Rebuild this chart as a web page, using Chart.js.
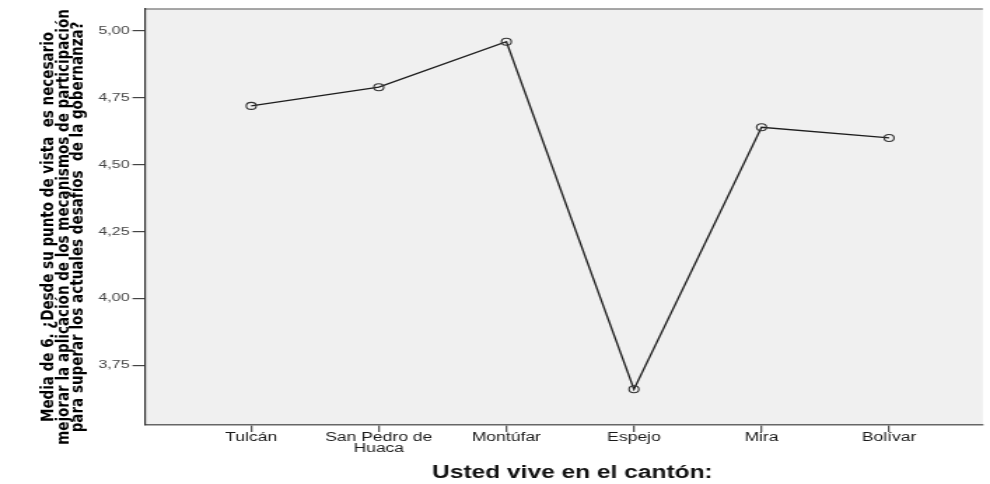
<!DOCTYPE html>
<html>
<head>
<meta charset="utf-8">
<script src="https://cdn.jsdelivr.net/npm/chart.js@4.4.1/dist/chart.umd.min.js"></script>
<style>
  html, body { margin: 0; padding: 0; background: #ffffff; overflow: hidden; }
  #wrap { position: absolute; left: 0; top: 0; width: 707px; height: 484px; transform: scaleX(1.40028); transform-origin: 0 0; }
</style>
</head>
<body>
<div id="wrap"><canvas id="c"></canvas></div>
<script>
// ---- data ----
const categories = ['Tulcán', 'San Pedro de Huaca', 'Montúfar', 'Espejo', 'Mira', 'Bolívar'];
const means = [4.72, 4.79, 4.96, 3.66, 4.64, 4.60];
const yTicks = [3.75, 4.00, 4.25, 4.50, 4.75, 5.00];
const yTitle = [
  'Media de 6. ¿Desde su punto de vista  es necesario',
  'mejorar la aplicación de los mecanismos de participación',
  'para superar los actuales desafíos  de la gobernanza?'
];
const xTitle = 'Usted vive en el cantón:';

const STRETCH = 1.40028;
const Y_TITLE_K = 1.15;

function wrap(s) {
  if (!s || s.length <= 12) return s;
  const i = s.lastIndexOf(' ', 12);
  return i > 0 ? [s.slice(0, i), s.slice(i + 1)] : s;
}

// draw an axis title with an extra transform (partly undo the horizontal stretch / nudge)
function patchTitle(scale, sx, dx, dy) {
  if (scale._titlePatched) return;
  scale._titlePatched = true;
  const orig = scale.drawTitle;
  scale.drawTitle = function () {
    const c = this.ctx;
    c.save();
    c.translate(dx, dy);
    c.scale(sx, 1);
    orig.call(this);
    c.restore();
  };
}

Chart.defaults.font.family = '"Liberation Sans", Arial, sans-serif';

const plotBg = {
  id: 'plotBg',
  beforeDraw(chart) {
    const { ctx, chartArea: a } = chart;
    ctx.save();
    ctx.fillStyle = '#f0f0f0';
    ctx.fillRect(a.left, a.top, a.right - a.left, a.bottom - a.top);
    ctx.strokeStyle = '#8a8a8a';
    ctx.lineWidth = 1.5;
    ctx.beginPath();
    ctx.moveTo(a.left, a.top);
    ctx.lineTo(a.right, a.top);
    ctx.stroke();
    ctx.restore();
  }
};

new Chart(document.getElementById('c'), {
  type: 'line',
  data: {
    datasets: [{
      data: means.map((v, i) => ({ x: i, y: v })),
      borderColor: '#1e1e1e',
      borderWidth: 1.3,
      pointRadius: 3.5,
      pointBorderWidth: 1.1,
      pointBorderColor: '#333333',
      pointBackgroundColor: 'rgba(0,0,0,0)',
      tension: 0
    }]
  },
  options: {
    responsive: true,
    maintainAspectRatio: false,
    animation: false,
    devicePixelRatio: 1,
    layout: { padding: { left: 0, right: 0, top: 7, bottom: 0 } },
    plugins: { legend: { display: false }, tooltip: { enabled: false } },
    scales: {
      x: {
        type: 'linear',
        min: -0.832,
        max: 5.735,
        afterBuildTicks: s => { s.ticks = categories.map((c, i) => ({ value: i })); },
        afterFit: s => { s.height = 59; patchTitle(s, 1, 6, 0); },
        ticks: {
          autoSkip: false, maxRotation: 0, minRotation: 0, padding: 0, color: '#1a1a1a',
          font: { size: 12.5, lineHeight: '11px' },
          callback: v => wrap(categories[v])
        },
        grid: { drawOnChartArea: false, drawTicks: true, tickLength: 7, color: '#555555', lineWidth: 1.3 },
        border: { display: true, color: '#666666', width: 1.5 },
        title: {
          display: true, text: xTitle, color: '#111111',
          font: { size: 17.5, weight: 'bold', lineHeight: '16px' },
          padding: { top: 0, bottom: 3 }
        }
      },
      y: {
        min: 3.526,
        max: 5.083,
        afterBuildTicks: s => { s.ticks = yTicks.map(v => ({ value: v })); },
        afterFit: s => { s.width = 103.6; patchTitle(s, Y_TITLE_K / STRETCH, 0, 10); },
        ticks: {
          padding: 2, color: '#444444', font: { size: 11.5 },
          callback: v => Number(v).toFixed(2).replace('.', ',')
        },
        grid: { drawOnChartArea: false, drawTicks: true, tickLength: 9, color: '#444444', lineWidth: 1.2 },
        border: { display: true, color: '#333333', width: 1.2 },
        title: {
          display: true, text: yTitle, color: '#000000',
          font: { family: '"Liberation Sans Narrow", "Arial Narrow", "DejaVu Sans Condensed", sans-serif', size: 15, weight: 'bold', lineHeight: '12.6px' },
          padding: { top: 36.3, bottom: 0 }
        }
      }
    }
  },
  plugins: [plotBg]
});
</script>
</body>
</html>
